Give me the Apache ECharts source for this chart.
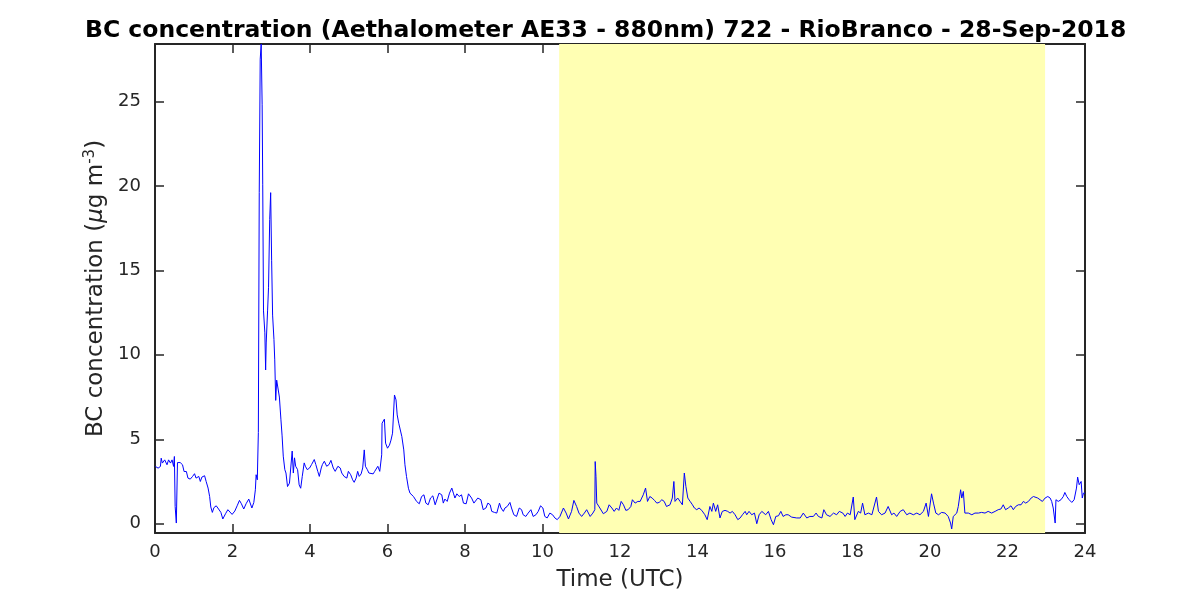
<!DOCTYPE html>
<html>
<head>
<meta charset="utf-8">
<script src="https://cdn.jsdelivr.net/npm/echarts@6/dist/echarts.min.js"></script>
<style>html,body{margin:0;padding:0;background:#fff}#c{width:1200px;height:600px}</style>
</head>
<body>
<div id="c"></div>
<script>
const titleText = 'BC concentration (Aethalometer AE33 - 880nm) 722 - RioBranco - 28-Sep-2018';
const xTicks = [0, 2, 4, 6, 8, 10, 12, 14, 16, 18, 20, 22, 24];
const yTicks = [0, 5, 10, 15, 20, 25];
const shadedPeriod = [10.43, 22.97];

const hours = [
0.01,0.08,0.14,0.16,0.19,0.25,0.31,0.35,0.40,0.44,0.48,0.50,0.52,0.55,0.58,0.65,0.71,0.75,0.81,0.85,
0.91,0.97,1.02,1.06,1.13,1.17,1.21,1.28,1.32,1.37,1.41,1.44,1.48,1.52,1.58,1.64,1.70,1.75,1.82,1.88,
1.93,1.99,2.06,2.12,2.18,2.23,2.29,2.35,2.42,2.47,2.50,2.55,2.59,2.61,2.64,2.667,2.69,2.715,2.74,2.765,
2.78,2.80,2.835,2.855,2.87,2.905,2.93,2.96,2.985,3.01,3.035,3.07,3.09,3.115,3.14,3.18,3.21,3.25,3.28,3.31,
3.35,3.38,3.42,3.47,3.54,3.57,3.60,3.63,3.68,3.72,3.76,3.80,3.85,3.88,3.93,3.99,4.04,4.11,4.15,4.20,
4.24,4.29,4.32,4.37,4.43,4.49,4.54,4.60,4.65,4.72,4.78,4.82,4.88,4.95,4.99,5.05,5.10,5.14,5.19,5.23,
5.27,5.32,5.36,5.40,5.43,5.48,5.52,5.57,5.63,5.67,5.75,5.80,5.85,5.86,5.92,5.95,6.00,6.05,6.09,6.13,
6.18,6.22,6.25,6.29,6.32,6.37,6.42,6.45,6.49,6.54,6.58,6.67,6.75,6.82,6.88,6.94,6.99,7.05,7.11,7.17,
7.23,7.27,7.33,7.40,7.44,7.48,7.54,7.60,7.66,7.70,7.74,7.79,7.85,7.91,7.96,8.03,8.09,8.13,8.17,8.23,
8.28,8.33,8.37,8.41,8.47,8.54,8.59,8.65,8.69,8.76,8.82,8.89,8.93,8.99,9.03,9.09,9.16,9.20,9.26,9.33,
9.40,9.46,9.50,9.57,9.63,9.70,9.76,9.83,9.89,9.95,10.01,10.06,10.12,10.19,10.26,10.32,10.38,10.45,10.54,10.61,
10.67,10.75,10.81,10.88,10.94,11.01,11.08,11.14,11.23,11.30,11.35,11.36,11.38,11.40,11.48,11.57,11.66,11.72,11.79,11.85,
11.91,11.97,12.03,12.09,12.15,12.21,12.28,12.32,12.39,12.46,12.52,12.56,12.60,12.66,12.71,12.77,12.83,12.89,12.95,13.01,
13.08,13.14,13.20,13.29,13.35,13.39,13.42,13.49,13.55,13.61,13.66,13.70,13.75,13.81,13.87,13.92,13.98,14.04,14.11,14.19,
14.25,14.32,14.37,14.41,14.47,14.52,14.58,14.64,14.71,14.78,14.84,14.90,14.97,15.04,15.10,15.16,15.23,15.27,15.33,15.40,
15.47,15.53,15.59,15.66,15.70,15.76,15.83,15.90,15.96,16.02,16.09,16.15,16.21,16.28,16.34,16.43,16.47,16.56,16.65,16.73,
16.82,16.90,16.99,17.06,17.12,17.21,17.26,17.33,17.42,17.51,17.59,17.66,17.75,17.81,17.87,17.94,17.99,18.02,18.06,18.15,
18.21,18.26,18.32,18.41,18.50,18.55,18.62,18.67,18.75,18.84,18.92,19.01,19.07,19.14,19.23,19.31,19.40,19.48,19.57,19.66,
19.74,19.83,19.90,19.96,20.04,20.09,20.15,20.22,20.30,20.39,20.47,20.53,20.56,20.60,20.69,20.73,20.79,20.82,20.86,20.90,
20.99,21.08,21.16,21.25,21.33,21.42,21.50,21.59,21.68,21.76,21.83,21.89,21.95,22.02,22.09,22.15,22.21,22.28,22.35,22.41,
22.47,22.54,22.61,22.67,22.71,22.78,22.84,22.90,22.97,23.04,23.10,23.14,23.18,23.23,23.25,23.31,23.38,23.44,23.48,23.53,
23.59,23.66,23.72,23.78,23.81,23.85,23.90,23.93,23.96,24.00
];

const bcConc = [
3.39,3.29,3.39,3.88,3.59,3.78,3.49,3.78,3.59,3.78,3.39,3.98,1.02,0.04,3.62,3.62,3.49,3.09,3.09,2.70,
2.64,2.80,2.96,2.70,2.80,2.50,2.76,2.84,2.50,2.11,1.61,0.99,0.67,0.95,1.06,0.87,0.67,0.28,0.59,0.83,
0.93,0.55,0.75,1.06,1.38,1.18,0.87,1.18,1.46,1.42,0.93,1.26,2.01,2.90,2.60,5.40,19.6,27.5,28.4,24.8,
20.1,12.6,11.3,9.1,10.7,12.6,14.0,18.0,19.6,15.6,12.35,10.9,9.7,7.3,8.5,8.5,7.5,6.15,5.2,4.0,
3.2,3.0,2.2,2.4,4.3,3.0,3.9,3.4,3.2,2.3,2.1,2.8,3.6,3.4,3.2,3.3,3.5,3.8,3.5,3.1,
2.8,3.3,3.5,3.7,3.4,3.5,3.75,3.3,3.1,3.4,3.3,3.0,2.8,2.7,3.1,2.9,2.6,2.45,2.7,3.1,
2.8,2.95,3.3,4.37,3.4,3.2,3.0,2.9,2.95,3.1,3.4,3.1,4.08,5.95,6.19,4.77,4.47,4.65,4.95,5.36,
7.62,7.33,6.44,5.95,5.9,5.16,4.37,3.49,2.8,2.1,1.81,1.61,1.32,1.18,1.61,1.71,1.22,1.12,1.52,1.65,
1.12,1.02,1.81,1.71,1.22,1.46,1.32,1.81,2.11,1.81,1.52,1.77,1.61,1.71,1.22,1.18,1.77,1.81,1.52,1.22,
1.12,1.52,1.61,1.42,0.83,0.93,1.22,1.12,0.73,0.67,0.63,1.22,0.93,0.73,0.93,1.02,1.26,0.93,0.53,0.43,
0.93,0.83,0.53,0.43,0.63,0.83,0.43,0.53,0.73,1.06,0.93,0.43,0.34,0.63,0.53,0.34,0.24,0.43,0.93,0.63,
0.28,0.73,1.38,1.02,0.63,0.43,0.63,0.83,0.43,0.63,0.83,3.68,2.8,1.22,0.93,0.59,0.73,1.12,0.93,0.73,
0.93,0.79,1.32,1.12,0.79,0.83,1.02,1.42,1.22,1.32,1.32,1.52,1.71,2.11,1.32,1.61,1.52,1.38,1.22,1.26,
1.42,1.32,1.02,1.12,1.52,2.5,1.32,1.52,1.32,1.12,3.0,2.21,1.52,1.32,1.12,0.93,0.83,0.93,0.79,0.53,
0.24,1.02,0.73,1.22,0.73,1.12,0.34,0.73,0.79,0.73,0.63,0.73,0.53,0.24,0.34,0.53,0.73,0.53,0.73,0.53,
0.63,0.0,0.53,0.73,0.63,0.53,0.73,0.24,-0.06,0.43,0.47,0.73,0.43,0.53,0.53,0.39,0.34,0.34,0.34,0.63,
0.34,0.43,0.43,0.63,0.43,0.34,0.83,0.53,0.43,0.63,0.53,0.73,0.63,0.43,0.63,0.53,0.63,1.58,0.24,0.73,
0.63,1.22,0.53,0.63,0.53,0.63,1.58,0.73,0.53,0.63,1.02,0.53,0.63,0.43,0.73,0.83,0.53,0.63,0.53,0.63,
0.53,0.73,1.22,0.43,1.77,1.22,0.63,0.53,0.67,0.63,0.43,0.04,-0.31,0.43,0.63,1.02,2.01,1.52,1.91,0.63,
0.63,0.53,0.63,0.63,0.67,0.63,0.73,0.63,0.73,0.83,0.87,1.12,0.83,0.93,1.06,0.83,1.02,1.12,1.12,1.32,
1.22,1.32,1.52,1.61,1.71,1.52,1.42,1.32,1.52,1.61,1.52,1.32,0.93,0.04,1.42,1.32,1.42,1.61,1.85,1.61,
1.42,1.26,1.42,2.11,2.76,2.31,2.50,1.52,1.81,1.81
];

const yMin = -0.55, yMax = 28.4;
const axisColor = '#262626';
const font = 'DejaVu Sans';

const lineData = hours.map((h, i) => [h, bcConc[i]]);

const chart = echarts.init(document.getElementById('c'), null, {renderer: 'canvas'});

const tickStyle = {show: true, inside: true, length: 9, lineStyle: {color: axisColor, width: 1.5}};
const lineStyleAxis = {show: true, onZero: false, lineStyle: {color: axisColor, width: 2}};

chart.setOption({
  animation: false,
  backgroundColor: '#ffffff',
  title: {
    text: titleText,
    left: 80,
    top: 14,
    textStyle: {fontFamily: font, fontWeight: 'bold', fontSize: 23.5, color: '#000'}
  },
  grid: {left: 155, right: 115, top: 44, bottom: 67, containLabel: false},
  xAxis: [
    {
      type: 'value', min: 0, max: 24, interval: 2,
      name: 'Time (UTC)', nameLocation: 'middle', nameGap: 36,
      nameTextStyle: {fontFamily: font, fontSize: 23, color: axisColor},
      axisLine: lineStyleAxis, axisTick: tickStyle,
      axisLabel: {fontFamily: font, fontSize: 18, color: axisColor, margin: 10,
        customValues: xTicks},
      splitLine: {show: false}
    },
    {
      type: 'value', min: 0, max: 24, interval: 2, position: 'top',
      axisLine: lineStyleAxis, axisTick: tickStyle,
      axisLabel: {show: false}, splitLine: {show: false}
    }
  ],
  yAxis: [
    {
      type: 'value', min: yMin, max: yMax,
      name: 'BC concentration ({i|μ}g m{sup|-3})', nameLocation: 'middle', nameGap: 42,
      nameTextStyle: {fontFamily: font, fontSize: 23, color: axisColor,
        rich: {
          i: {fontFamily: font, fontSize: 23, fontStyle: 'italic', color: axisColor},
          sup: {fontFamily: font, fontSize: 15, color: axisColor, verticalAlign: 'top', padding: [0, 0, 11, 0]}
        }},
      axisLine: lineStyleAxis,
      axisTick: Object.assign({}, tickStyle, {customValues: yTicks}),
      axisLabel: {fontFamily: font, fontSize: 18, color: axisColor, margin: 14, customValues: yTicks},
      splitLine: {show: false}
    },
    {
      type: 'value', min: yMin, max: yMax, position: 'right',
      axisLine: lineStyleAxis,
      axisTick: Object.assign({}, tickStyle, {customValues: yTicks}),
      axisLabel: {show: false}, splitLine: {show: false}
    }
  ],
  series: [
    {
      type: 'line',
      xAxisIndex: 0, yAxisIndex: 0,
      data: lineData,
      showSymbol: false,
      symbol: 'none',
      clip: true,
      lineStyle: {color: '#0000ff', width: 1},
      z: 3,
      markArea: {
        silent: true,
        itemStyle: {color: '#ffffb3'},
        data: [[{xAxis: shadedPeriod[0]}, {xAxis: shadedPeriod[1]}]]
      }
    }
  ]
});
</script>
</body>
</html>
